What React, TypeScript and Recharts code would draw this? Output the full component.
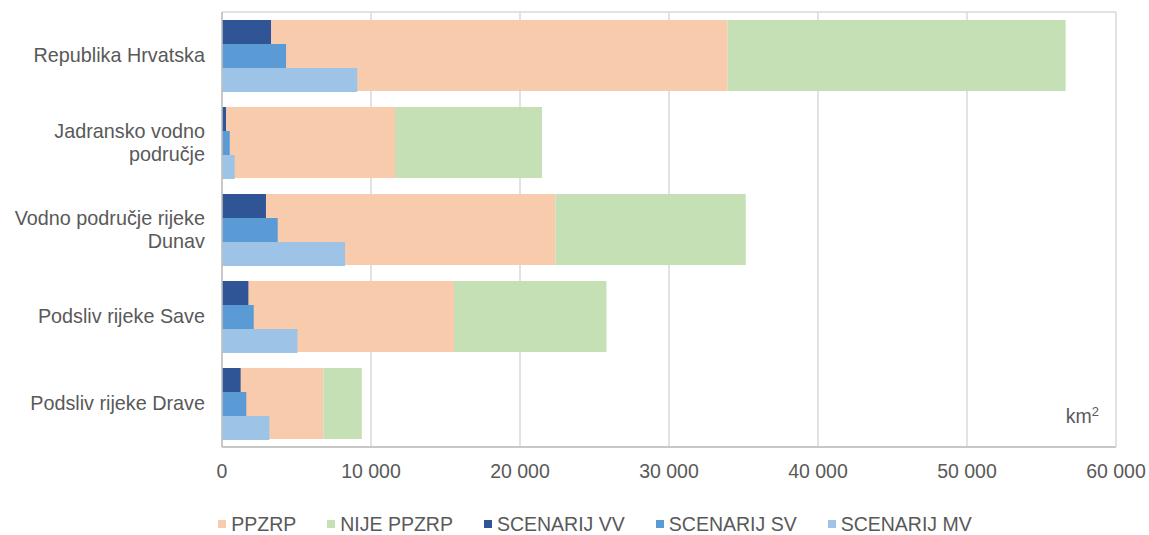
import { BarChart, Bar, XAxis, YAxis, CartesianGrid } from "recharts";

const categories = [
  "Republika Hrvatska",
  "Jadransko vodno\npodručje",
  "Vodno područje rijeke\nDunav",
  "Podsliv rijeke Save",
  "Podsliv rijeke Drave",
];

const ppzrp = [33940, 11610, 22370, 15570, 6800];
const nijePpzrp = [22680, 9870, 12780, 10230, 2580];
const scenarijVV = [3290, 270, 2950, 1770, 1250];
const scenarijSV = [4300, 520, 3740, 2130, 1630];
const scenarijMV = [9080, 850, 8260, 5060, 3180];

const xTicks = [0, 10000, 20000, 30000, 40000, 50000, 60000];

const series = [
  { key: "ppzrp", name: "PPZRP", color: "#F8CBAD" },
  { key: "nije", name: "NIJE PPZRP", color: "#C5E0B4" },
  { key: "vv", name: "SCENARIJ VV", color: "#2F5597" },
  { key: "sv", name: "SCENARIJ SV", color: "#5B9BD5" },
  { key: "mv", name: "SCENARIJ MV", color: "#9DC3E6" },
];

const data = categories.map((name, i) => ({
  name,
  ppzrp: ppzrp[i],
  nije: nijePpzrp[i],
  vv: scenarijVV[i],
  sv: scenarijSV[i],
  mv: scenarijMV[i],
}));

const FONT = '"Liberation Sans", Arial, sans-serif';
const TEXT = "#595959";
const FS = 19.5;

const fmt = (v: number) => String(v).replace(/\B(?=(\d{3})+(?!\d))/g, " ");

function CategoryTick(props: any) {
  const { x, y, payload } = props;
  const lines: string[] = String(payload.value).split("\n");
  const lh = 23;
  return (
    <text x={x} y={y} textAnchor="end" fill={TEXT} fontSize={19.8} fontFamily={FONT}>
      {lines.map((l, i) => (
        <tspan key={i} x={x} dy={i === 0 ? -((lines.length - 1) * lh) / 2 + FS * 0.35 : lh}>
          {l}
        </tspan>
      ))}
    </text>
  );
}

export default function App() {
  return (
    <div style={{ position: "absolute", left: 0, top: 0, width: 1149, height: 535, background: "#fff", fontFamily: FONT }}>
      <BarChart
        width={1149}
        height={535}
        data={data}
        layout="vertical"
        barCategoryGap={8}
        barGap={0}
        margin={{ top: 12, right: 33, bottom: 58, left: 0 }}
      >
        <CartesianGrid
          yAxisId="main"
          stroke="#d9d9d9"
          strokeWidth={1.5}
          horizontalCoordinatesGenerator={({ offset }: any) => [offset.top, offset.top + offset.height]}
        />
        <XAxis
          type="number"
          domain={[0, 60000]}
          ticks={xTicks}
          height={30}
          tickFormatter={fmt}
          tick={{ fill: TEXT, fontSize: FS, fontFamily: FONT }}
          axisLine={{ stroke: "#bfbfbf", strokeWidth: 1.5 }}
          tickLine={false}
          tickMargin={11}
        />
        <YAxis
          yAxisId="main"
          type="category"
          dataKey="name"
          width={222}
          tick={<CategoryTick />}
          axisLine={{ stroke: "#bfbfbf", strokeWidth: 1.5 }}
          tickLine={false}
          tickMargin={11}
          interval={0}
        />
        <YAxis yAxisId="scen" type="category" dataKey="name" hide />
        <Bar yAxisId="main" dataKey="ppzrp" name="PPZRP" stackId="a" fill="#F8CBAD" isAnimationActive={false} />
        <Bar yAxisId="main" dataKey="nije" name="NIJE PPZRP" stackId="a" fill="#C5E0B4" isAnimationActive={false} />
        <Bar yAxisId="scen" dataKey="vv" name="SCENARIJ VV" fill="#2F5597" isAnimationActive={false} />
        <Bar yAxisId="scen" dataKey="sv" name="SCENARIJ SV" fill="#5B9BD5" isAnimationActive={false} />
        <Bar yAxisId="scen" dataKey="mv" name="SCENARIJ MV" fill="#9DC3E6" isAnimationActive={false} />
      </BarChart>

      <div
        style={{
          position: "absolute",
          right: 50,
          top: 405,
          fontSize: FS,
          lineHeight: "22px",
          color: TEXT,
        }}
      >
        km<sup style={{ fontSize: 13, lineHeight: 0 }}>2</sup>
      </div>

      <div
        style={{
          position: "absolute",
          left: 0,
          top: 514,
          width: 1149,
          boxSizing: "border-box",
          paddingLeft: 41,
          display: "flex",
          justifyContent: "center",
          gap: 31,
          fontSize: FS,
          lineHeight: "20px",
          color: TEXT,
        }}
      >
        {series.map((s) => (
          <div key={s.key} style={{ display: "flex", alignItems: "center" }}>
            <span style={{ display: "inline-block", width: 8, height: 8, background: s.color, marginRight: 5 }} />
            <span>{s.name}</span>
          </div>
        ))}
      </div>
    </div>
  );
}
